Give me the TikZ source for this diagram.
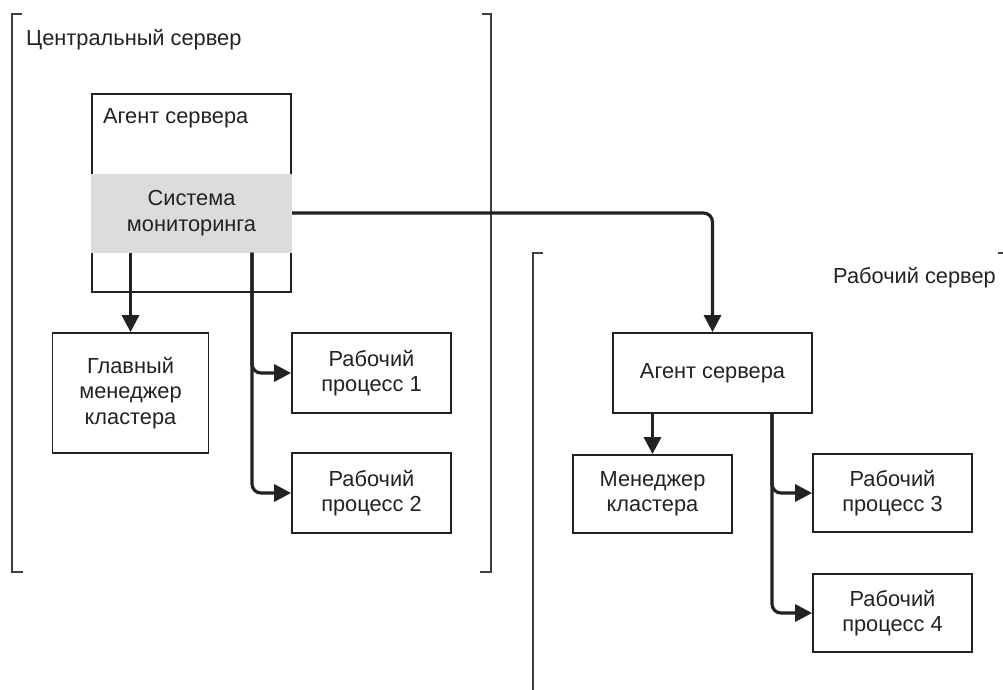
\documentclass[tikz,border=0pt]{standalone}
\usepackage{fontspec}
\setmainfont{Liberation Sans}
\usetikzlibrary{arrows.meta}
\definecolor{monfill}{HTML}{DCDCDC}
\definecolor{ink}{HTML}{222222}
\begin{document}
\begin{tikzpicture}[x=1pt,y=-1pt,
  txt/.style={font=\fontsize{21.8}{25.5}\selectfont, text=ink, align=center, inner sep=0pt},
  box/.style={txt, draw=ink, line width=1.8pt, fill=white},
  conn/.style={line width=3.2pt, draw=ink, -{Triangle[length=17pt,width=17pt]}, rounded corners=9pt},
  brk/.style={line width=2.5pt, draw=black!75}]
\useasboundingbox (0,0) rectangle (1003,690);

% brackets
\draw[brk] (22,14) -- (12,14) -- (12,572) -- (23,572);
\draw[brk] (482,14) -- (491,14) -- (491,572) -- (480,572);
\draw[brk] (543,253) -- (533,253) -- (533,690);
\draw[brk] (998,253) -- (1003,253);

% labels
\node[txt, anchor=west] (cs) at (26,40) {Центральный сервер};
\node[txt, anchor=west] (ws) at (833,278) {Рабочий сервер};

% central server
\node[box, minimum width=199pt, minimum height=198pt] (agentL) at (191.5,193) {};
\node[txt, anchor=west] (agentLt) at (103,118) {Агент сервера};
\node[txt, fill=monfill, minimum width=201pt, minimum height=79pt] (mon) at (191.5,213) {Система\\мониторинга};
\node[box, minimum width=156pt, minimum height=120pt] (glav) at (130.5,393) {Главный\\менеджер\\кластера};
\node[box, minimum width=159pt, minimum height=80pt] (p1) at (371.5,373) {Рабочий\\процесс 1};
\node[box, minimum width=159pt, minimum height=80pt] (p2) at (371.5,493) {Рабочий\\процесс 2};

% working server
\node[box, minimum width=199pt, minimum height=80pt] (agentR) at (712.5,373) {Агент сервера};
\node[box, minimum width=159pt, minimum height=78pt] (mgr) at (652.5,494) {Менеджер\\кластера};
\node[box, minimum width=159pt, minimum height=78pt] (p3) at (892.5,493) {Рабочий\\процесс 3};
\node[box, minimum width=159pt, minimum height=78pt] (p4) at (892.5,613) {Рабочий\\процесс 4};

% connectors
\coordinate (l1) at (252,252.5);
\coordinate (r1) at (772,413);
\draw[conn] (mon.south -| glav.north) -- (glav.north);
\draw[conn] (l1) |- (p1.west);
\draw[conn] (l1) |- (p2.west);
\draw[conn] (mon.east) -| (agentR.north);
\draw[conn] (agentR.south -| mgr.north) -- (mgr.north);
\draw[conn] (r1) |- (p3.west);
\draw[conn] (r1) |- (p4.west);
\end{tikzpicture}
\end{document}
